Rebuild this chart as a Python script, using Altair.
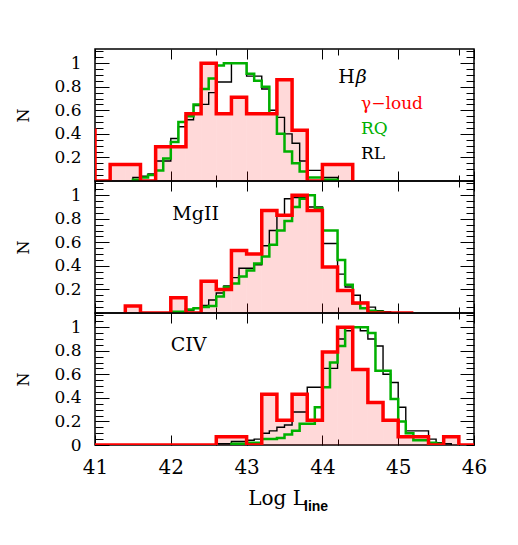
import altair as alt
import pandas as pd

# ---------------- data (normalised counts per Log L_line bin) ----------------
# H-beta panel
HB_RED_START, HB_RED_W = 40.8, 0.2
HB_RED = [0.43, 0, 0.14, 0.14, 0, 0.29, 0.29, 0.57, 1.0, 0.57, 0.71, 0.57, 0.57, 0.86, 0.43, 0, 0.14, 0.14]
HB_RQ_START, HB_RQ_W = 41.5, 0.1
HB_RQ = [0.01, 0.03, 0.05, 0.09, 0.19, 0.33, 0.50, 0.55, 0.65, 0.78, 0.87, 0.98, 1.0, 1.0, 1.0, 0.91, 0.85,
         0.80, 0.57, 0.40, 0.25, 0.15, 0.08, 0.03, 0.03, 0.01, 0.01]
HB_RL_START, HB_RL_W = 41.5, 0.1
HB_RL = [0.03, 0.04, 0.06, 0.17, 0.17, 0.36, 0.46, 0.52, 0.64, 0.65, 0.75, 0.84, 0.84, 1.0, 1.0, 0.89, 0.89,
         0.78, 0.60, 0.54, 0.40, 0.32, 0.17, 0.09, 0.09, 0.03, 0.03]

# MgII panel
MG_RED_START, MG_RED_W = 41.4, 0.2
MG_RED = [0.06, 0, 0, 0.13, 0, 0.27, 0.20, 0.53, 0.50, 0.87, 0.83, 1.0, 0.87, 0.39, 0.19, 0.085, 0, 0, 0]
MG_RQ_START, MG_RQ_W = 42.0, 0.1
MG_RQ = [0.01, 0.01, 0.03, 0.04, 0.05, 0.06, 0.14, 0.22, 0.25, 0.31, 0.36, 0.42, 0.48, 0.58, 0.70, 0.78,
         0.90, 0.97, 1.0, 0.89, 0.70, 0.70, 0.45, 0.24, 0.08, 0.04, 0.02, 0.01]
MG_RL_START, MG_RL_W = 42.0, 0.1
MG_RL = [0.01, 0.01, 0.02, 0.04, 0.065, 0.11, 0.17, 0.23, 0.30, 0.38, 0.38, 0.41, 0.57, 0.70, 0.83, 0.97,
         0.98, 0.98, 0.90, 0.90, 0.59, 0.59, 0.33, 0.22, 0.15, 0.09, 0.05, 0.02, 0.01]

# CIV panel
CIV_RED_START, CIV_RED_W = 41.0, 0.2
CIV_RED = [0, 0, 0, 0, 0, 0, 0, 0, 0.07, 0.07, 0, 0.43, 0.21, 0.43, 0.21, 0.79, 1.0, 0.64, 0.36, 0.21,
           0.07, 0.07, 0, 0.07, 0]
CIV_RQ_START, CIV_RQ_W = 42.8, 0.1
CIV_RQ = [0.01, 0.01, 0.02, 0.02, 0.05, 0.05, 0.06, 0.09, 0.12, 0.18, 0.18, 0.32, 0.49, 0.70, 0.84, 1.0,
          1.0, 1.0, 0.95, 0.63, 0.63, 0.39, 0.20, 0.10, 0.04, 0.04, 0.02, 0.01]
CIV_RL_START, CIV_RL_W = 42.6, 0.1
CIV_RL = [0.01, 0.01, 0.03, 0.03, 0.04, 0.05, 0.10, 0.12, 0.15, 0.17, 0.28, 0.28, 0.49, 0.49, 0.65, 0.65,
          0.90, 0.97, 1.0, 0.97, 0.90, 0.84, 0.60, 0.53, 0.32, 0.12, 0.12, 0.12, 0.05, 0.02, 0.01]

X_MAJOR = [41, 42, 43, 44, 45, 46]
X_MINOR = [round(41 + 0.2 * i, 1) for i in range(26)]
Y_MAJOR = [0.2, 0.4, 0.6, 0.8, 1.0]
Y_MAJOR_BOTTOM = [0, 0.2, 0.4, 0.6, 0.8, 1.0]
Y_MINOR = [round(0.05 * i, 2) for i in range(23)]

PANEL_NAMES = ["MgII", "CIV"]
LEGEND = ["γ−loud", "RQ", "RL"]
LEGEND_COLORS = ["#ff0000", "#00b000", "#000000"]

RED, GREEN, BLACK = "#ff0000", "#00b000", "#000000"
SERIF = "DejaVu Serif"

X_SCALE = alt.Scale(domain=[41, 46], nice=False, zero=False)
Y_SCALE = alt.Scale(domain=[0, 1.12], nice=False, zero=True)


def steps(start, width, values):
    edges = [round(start + i * width, 3) for i in range(len(values) + 1)]
    xs = [edges[0]] + edges[:-1] + [edges[-1]]
    ys = [0] + list(values) + [0]
    return pd.DataFrame({"x": xs, "y": ys, "i": list(range(len(xs)))})


def ax_x(orient, values, size, labels=False):
    return alt.Axis(orient=orient, values=values, tickSize={"expr": str(-size)}, labels=labels,
                    domain=False, grid=False, title=None, tickColor="black", tickWidth=1,
                    labelFlush=False, labelPadding=22, labelFontSize=20, labelFont=SERIF,
                    labelColor="black", format="d")


def ax_y(orient, values, size, labels=False, title=None):
    if title:
        kw = dict(title=title, titleFont=SERIF, titleFontSize=16, titleFontWeight="normal",
                  titleColor="black", titlePadding=22)
    else:
        kw = dict(title=None)
    return alt.Axis(orient=orient, values=values, tickSize={"expr": str(-size)}, labels=labels,
                    domain=False, grid=False, tickColor="black", tickWidth=1,
                    labelFlush=False, labelPadding=28, labelFontSize=17, labelFont=SERIF,
                    labelColor="black",
                    labelExpr="datum.value > 0.99 ? '1' : (datum.value < 0.01 ? '0' : format(datum.value, '.1f'))",
                    **kw)


def text_layer(df, size, style="normal"):
    return alt.Chart(df).mark_text(align="left", baseline="alphabetic", font=SERIF, fontSize=size,
                                   fontStyle=style).encode(
        x=alt.X("x:Q", scale=X_SCALE, axis=None),
        y=alt.Y("y:Q", scale=Y_SCALE, axis=None),
        text="t:N",
        color=alt.Color("c:N", scale=None),
    )


def panel(red, rq, rl, texts, bottom):
    red_df = steps(*red)
    rq_df = steps(*rq)
    rl_df = steps(*rl)
    fill = alt.Chart(red_df).mark_area(interpolate="step-after", color=RED, opacity=0.15, clip=True).encode(
        x=alt.X("x:Q", scale=X_SCALE, axis=ax_x("bottom", X_MAJOR, 10, labels=bottom)),
        y=alt.Y("y:Q", scale=Y_SCALE,
                axis=ax_y("left", Y_MAJOR_BOTTOM if bottom else Y_MAJOR, 14, labels=True, title="N")),
        order="i:Q",
    )
    black = alt.Chart(rl_df).mark_line(interpolate="step-after", color=BLACK, strokeWidth=1.4, clip=True).encode(
        x=alt.X("x:Q", scale=X_SCALE, axis=ax_x("top", X_MAJOR, 10)),
        y=alt.Y("y:Q", scale=Y_SCALE, axis=ax_y("right", Y_MAJOR, 14)),
        order="i:Q",
    )
    green = alt.Chart(rq_df).mark_line(interpolate="step-after", color=GREEN, strokeWidth=2.5, clip=True).encode(
        x=alt.X("x:Q", scale=X_SCALE, axis=ax_x("bottom", X_MINOR, 6)),
        y=alt.Y("y:Q", scale=Y_SCALE, axis=ax_y("left", Y_MINOR, 8)),
        order="i:Q",
    )
    redl = alt.Chart(red_df).mark_line(interpolate="step-after", color=RED, strokeWidth=3.5, clip=True).encode(
        x=alt.X("x:Q", scale=X_SCALE, axis=ax_x("top", X_MINOR, 6)),
        y=alt.Y("y:Q", scale=Y_SCALE, axis=ax_y("right", Y_MINOR, 8)),
        order="i:Q",
    )
    layers = [fill, black, green, redl] + texts
    return alt.layer(*layers).resolve_axis(x="independent", y="independent").properties(width=379, height=132)


# texts
hb_texts = [
    text_layer(pd.DataFrame({"x": [44.21], "y": [0.835], "t": ["H"], "c": ["black"]}), 19),
    text_layer(pd.DataFrame({"x": [44.44], "y": [0.835], "t": ["β"], "c": ["black"]}), 19, "italic"),
    text_layer(pd.DataFrame({"x": [44.51, 44.51, 44.51], "y": [0.61, 0.395, 0.19],
                             "t": LEGEND, "c": LEGEND_COLORS}), 17),
]
mg_texts = [text_layer(pd.DataFrame({"x": [42.02], "y": [0.79], "t": [PANEL_NAMES[0]], "c": ["black"]}), 19)]
civ_texts = [
    text_layer(pd.DataFrame({"x": [42.0], "y": [0.80], "t": [PANEL_NAMES[1]], "c": ["black"]}), 19),
    alt.Chart(pd.DataFrame({"t": ["Log  L"]})).mark_text(
        align="right", baseline="alphabetic", font=SERIF, fontSize=20, color="black").encode(
        x=alt.value(211), y=alt.value(192), text="t:N"),
    alt.Chart(pd.DataFrame({"t": ["line"]})).mark_text(
        align="left", baseline="alphabetic", font="Liberation Sans", fontSize=14, fontWeight="bold",
        color="black").encode(x=alt.value(209), y=alt.value(198), text="t:N"),
]

top = panel((HB_RED_START, HB_RED_W, HB_RED), (HB_RQ_START, HB_RQ_W, HB_RQ), (HB_RL_START, HB_RL_W, HB_RL),
            hb_texts, False)
mid = panel((MG_RED_START, MG_RED_W, MG_RED), (MG_RQ_START, MG_RQ_W, MG_RQ), (MG_RL_START, MG_RL_W, MG_RL),
            mg_texts, False)
bot = panel((CIV_RED_START, CIV_RED_W, CIV_RED), (CIV_RQ_START, CIV_RQ_W, CIV_RQ),
            (CIV_RL_START, CIV_RL_W, CIV_RL), civ_texts, True)

chart = alt.vconcat(top, mid, bot, spacing=0, bounds="flush").properties(
    padding={"left": 7, "top": 39, "right": 5, "bottom": 5}
).configure_view(stroke="black", strokeWidth=1.5)

chart.save("out.html", embed_options={"renderer": "svg", "actions": False})
